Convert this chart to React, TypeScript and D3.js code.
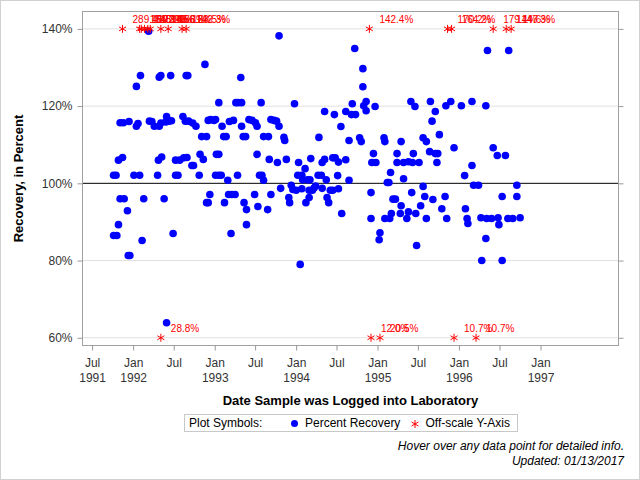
import { useEffect, useRef } from 'react';
import { select, scaleLinear, scaleTime, axisBottom, axisLeft, axisRight, timeMonth, timeFormat } from 'd3';

// sample log dates as decimal years, and recovery in percent
const loggedYear = [
  1992.88, 1992.09, 1992.04, 1992.32, 1992.34, 1992.46, 1992.65, 1992.67, 1993.32, 1993.05,
  1993.26, 1993.29, 1993.33, 1993.57, 1993.98, 1994.35, 1991.84, 1991.88, 1991.95, 1992.04,
  1992.06, 1992.20, 1992.23, 1992.26, 1992.32, 1992.34, 1992.41, 1992.40, 1992.44, 1992.47,
  1992.61, 1992.64, 1992.68, 1992.73, 1992.77, 1992.92, 1992.95, 1992.99, 1993.01, 1993.09,
  1993.18, 1993.23, 1993.33, 1993.42, 1993.46, 1993.52, 1993.50, 1993.69, 1993.73, 1993.76,
  1993.79, 1994.28, 1992.84, 1992.90, 1993.11, 1993.14, 1993.35, 1993.38, 1993.60, 1993.66,
  1993.85, 1993.86, 1991.82, 1991.87, 1992.31, 1992.35, 1992.52, 1992.57, 1992.62, 1992.66,
  1992.72, 1992.74, 1992.82, 1992.86, 1993.02, 1993.05, 1993.52, 1993.67, 1993.77, 1993.88,
  1994.03, 1994.11, 1994.18, 1994.32, 1994.35, 1991.76, 1991.79, 1992.01, 1992.08, 1992.30,
  1992.52, 1992.55, 1992.81, 1993.01, 1993.05, 1993.08, 1993.16, 1993.28, 1993.55, 1993.58,
  1993.60, 1993.81, 1993.94, 1993.96, 1994.00, 1994.02, 1994.07, 1994.07, 1994.08, 1994.14,
  1994.16, 1994.17, 1994.20, 1994.22, 1994.24, 1994.27, 1994.31, 1994.32, 1994.37, 1991.84,
  1991.89, 1992.13, 1992.38, 1991.93, 1991.82, 1991.76, 1991.80, 1992.11, 1991.94, 1991.96,
  1992.49, 1992.41, 1992.94, 1992.90, 1992.92, 1993.12, 1993.17, 1993.21, 1993.25, 1993.36,
  1993.39, 1993.39, 1993.20, 1993.49, 1993.53, 1993.65, 1993.69, 1993.92, 1993.91, 1994.12,
  1994.16, 1994.38, 1994.40, 1994.05, 1992.19, 1993.79, 1994.42, 1994.45, 1994.52, 1994.56,
  1994.72, 1994.82, 1994.82, 1994.86, 1994.83, 1994.86, 1994.97, 1994.69, 1994.61, 1994.68,
  1994.73, 1994.47, 1994.55, 1994.65, 1994.78, 1994.80, 1995.08, 1995.09, 1995.29, 1995.41,
  1995.46, 1995.65, 1995.71, 1995.67, 1995.76, 1995.56, 1995.60, 1995.84, 1995.90, 1996.03,
  1996.16, 1996.33, 1996.35, 1996.61, 1995.94, 1996.42, 1996.47, 1996.57, 1996.16, 1996.07,
  1995.64, 1995.71, 1995.74, 1995.73, 1995.44, 1995.24, 1995.24, 1995.32, 1995.38, 1995.43,
  1995.51, 1994.95, 1994.93, 1994.98, 1995.16, 1995.32, 1995.12, 1995.14, 1994.65, 1994.51,
  1994.61, 1994.45, 1994.48, 1994.52, 1996.18, 1996.24, 1996.71, 1995.56, 1994.92, 1994.92,
  1995.03, 1995.02, 1995.19, 1995.22, 1995.17, 1995.09, 1995.15, 1995.29, 1995.28, 1995.38,
  1995.36, 1995.42, 1995.47, 1995.48, 1995.53, 1995.58, 1995.60, 1995.68, 1995.79, 1995.83,
  1995.85, 1996.08, 1996.10, 1996.11, 1996.27, 1996.34, 1996.40, 1996.48, 1996.49, 1996.33,
  1996.28, 1996.53, 1996.53, 1996.60, 1996.66, 1996.75, 1996.71,
];
const recovery = [
  130.8, 127.9, 125.1, 127.5, 127.9, 127.9, 127.9, 127.9, 127.4, 120.9,
  120.9, 120.9, 120.9, 120.9, 120.6, 118.6, 115.7, 115.7, 116.0, 114.8,
  115.5, 116.1, 116.0, 114.8, 114.8, 115.6, 117.3, 115.9, 116.1, 116.2,
  117.3, 116.1, 116.1, 115.6, 114.8, 116.3, 116.5, 116.3, 116.5, 114.8,
  116.0, 116.3, 114.8, 116.5, 116.3, 114.8, 115.7, 116.5, 116.3, 116.1,
  114.8, 111.9, 112.1, 112.1, 112.1, 112.1, 112.1, 112.1, 112.1, 112.1,
  111.9, 111.1, 106.0, 106.7, 106.0, 106.8, 106.0, 106.0, 106.6, 106.7,
  104.6, 104.6, 107.5, 106.2, 107.5, 107.5, 107.5, 106.2, 105.4, 106.2,
  105.4, 103.8, 106.4, 105.4, 106.2, 102.1, 102.1, 102.1, 102.1, 102.1,
  102.1, 102.1, 102.1, 102.1, 102.1, 102.1, 100.8, 102.1, 102.1, 102.1,
  100.8, 98.7, 99.5, 98.4, 98.2, 102.1, 102.1, 98.6, 100.9, 100.9,
  98.2, 100.9, 98.2, 98.8, 99.3, 102.1, 102.1, 98.7, 100.9, 96.0,
  96.0, 96.0, 96.0, 92.9, 89.3, 86.5, 86.5, 85.2, 81.3, 81.3,
  87.0, 63.9, 97.1, 95.0, 95.0, 95.0, 97.1, 97.1, 97.1, 95.0,
  93.2, 89.3, 87.0, 97.1, 94.0, 93.2, 97.1, 95.0, 96.3, 95.0,
  96.3, 96.3, 95.0, 79.0, 139.4, 138.2, 98.2, 98.2, 98.6, 92.2,
  134.9, 129.7, 125.0, 121.2, 120.1, 118.8, 119.9, 120.6, 118.6, 117.8,
  117.8, 117.8, 114.7, 111.1, 111.8, 110.8, 111.8, 110.8, 110.8, 121.2,
  119.9, 121.2, 118.6, 116.1, 112.6, 111.8, 110.8, 120.1, 121.2, 120.1,
  121.2, 120.1, 134.4, 134.4, 109.2, 109.2, 107.2, 107.2, 104.6, 102.0,
  108.2, 107.7, 107.7, 105.4, 107.7, 107.7, 105.4, 105.4, 105.6, 105.4,
  105.4, 107.7, 105.4, 105.4, 102.8, 101.2, 100.2, 100.2, 100.8, 102.0,
  106.1, 106.6, 106.6, 105.5, 99.5, 99.5, 99.5, 99.2, 97.6, 90.9,
  87.2, 85.4, 95.9, 95.9, 92.2, 90.9, 90.9, 94.2, 92.2, 92.6,
  90.9, 97.6, 92.2, 83.9, 94.2, 96.6, 90.9, 95.8, 93.4, 96.6,
  90.9, 93.4, 90.9, 89.6, 91.1, 90.9, 90.9, 91.1, 89.3, 85.7,
  80.0, 80.0, 96.6, 90.9, 90.9, 91.1, 96.6,
];

// samples whose recovery falls outside the 60%-140% scale
const offscaleYear = [
  1991.87, 1992.08, 1992.10, 1992.14, 1992.18, 1992.21, 1992.34, 1992.43, 1992.60, 1992.65,
  1994.90, 1995.86, 1995.91, 1996.42, 1996.58, 1996.64,
  1992.34, 1994.92, 1995.03, 1995.94, 1996.21,
];
const offscaleValue = [
  289.4, 154.3, 160.9, 148.2, 172.6, 151.0, 145.8, 156.2, 163.5, 142.3,
  142.4, 170.2, 164.2, 179.1, 144.6, 147.3,
  28.8, 12.0, 20.5, 10.7, 10.7,
];

const yTicks = [60, 80, 100, 120, 140];
const yMin = 58;
const yMax = 144.5;
const scaleLow = 60;
const scaleHigh = 140;
const xStartYear = 1991.378;
const xEndYear = 1997.958;
const xFirstTick = [1991, 6];
const xLastTick = [1997, 0];

const FONT = 'Liberation Sans, Arial, Helvetica, sans-serif';
const W = 640;
const H = 480;
const left = 82.5;
const right = 618.5;
const top = 11.5;
const bottom = 345.5;

function yearToDate(y: number) {
  const yr = Math.floor(y);
  const a = new Date(yr, 0, 1).getTime();
  const b = new Date(yr + 1, 0, 1).getTime();
  return new Date(a + (y - yr) * (b - a));
}

const asterisk = 'M0,-4L0,4M-3.5,-2L3.5,2M-3.5,2L3.5,-2';

const App = () => {
  const xAxisRef = useRef<SVGGElement>(null);
  const yAxisRef = useRef<SVGGElement>(null);
  const yAxisRightRef = useRef<SVGGElement>(null);

  const x = scaleTime().domain([yearToDate(xStartYear), yearToDate(xEndYear)]).range([left, right]);
  const y = scaleLinear().domain([yMin, yMax]).range([bottom, top]);

  useEffect(() => {
    const tickDates = timeMonth
      .every(6)!
      .range(new Date(xFirstTick[0], xFirstTick[1], 1), new Date(xLastTick[0], xLastTick[1], 2));
    const gx = select(xAxisRef.current!);
    gx.call(axisBottom(x).tickValues(tickDates).tickSize(5).tickFormat(() => ''));
    gx.select('.domain').remove();
    gx.selectAll('.tick line').attr('stroke', '#999');
    gx.selectAll<SVGTextElement, Date>('.tick text').each(function (d, i) {
      const t = select(this);
      t.attr('y', 21).attr('dy', null).attr('fill', '#333').style('font-size', '12px');
      t.append('tspan').attr('x', 0).text(timeFormat('%b')(d));
      if (i === 0 || d.getMonth() === 0) {
        t.append('tspan').attr('x', 0).attr('dy', 15).text(timeFormat('%Y')(d));
      }
    });

    const gy = select(yAxisRef.current!);
    gy.call(axisLeft(y).tickValues(yTicks).tickSize(5).tickPadding(5).tickFormat((d) => `${d}%`));
    gy.select('.domain').remove();
    gy.selectAll('.tick line').attr('stroke', '#999');
    gy.selectAll('.tick text').attr('fill', '#333').style('font-size', '12px');

    const gr = select(yAxisRightRef.current!);
    gr.call(axisRight(y).tickValues(yTicks).tickSize(5).tickFormat(() => ''));
    gr.select('.domain').remove();
    gr.selectAll('.tick line').attr('stroke', '#999');
  }, []);

  return (
    <svg
      width={W}
      height={H}
      style={{ position: 'absolute', left: 0, top: 0, background: '#fff', fontFamily: FONT }}
    >
      <rect x={0.5} y={0.5} width={W - 1} height={H - 1} fill="#fff" stroke="#d0d0d0" />

      {yTicks.filter((t) => t !== 100).map((t) => (
        <line key={t} x1={left} x2={right} y1={y(t)} y2={y(t)} stroke="#e0e0e0" />
      ))}
      <line x1={left} x2={right} y1={y(100)} y2={y(100)} stroke="#000" />

      {loggedYear.map((yr, i) => (
        <circle key={i} cx={x(yearToDate(yr))} cy={y(recovery[i])} r={3.8} fill="#0000ff" />
      ))}

      {offscaleYear.map((yr, i) => {
        const v = offscaleValue[i];
        const yy = y(v > scaleHigh ? scaleHigh : scaleLow);
        return (
          <path
            key={`a${i}`}
            d={asterisk}
            transform={`translate(${x(yearToDate(yr))},${yy})`}
            stroke="#ff0000"
            fill="none"
          />
        );
      })}
      {offscaleYear.map((yr, i) => {
        const v = offscaleValue[i];
        const yy = y(v > scaleHigh ? scaleHigh : scaleLow);
        return (
          <text key={`l${i}`} x={x(yearToDate(yr)) + 10} y={yy - 6} fontSize={10} fill="#ff0000">
            {`${v.toFixed(1)}%`}
          </text>
        );
      })}

      <rect x={left} y={top} width={right - left} height={bottom - top} fill="none" stroke="#a0a0a0" />

      <g ref={xAxisRef} transform={`translate(0,${bottom})`} />
      <g ref={yAxisRef} transform={`translate(${left},0)`} />
      <g ref={yAxisRightRef} transform={`translate(${right},0)`} />

      <text x={(left + right) / 2} y={405} textAnchor="middle" fontSize={13} fontWeight="bold">
        Date Sample was Logged into Laboratory
      </text>
      <text
        transform={`translate(23,${(top + bottom) / 2}) rotate(-90)`}
        textAnchor="middle"
        fontSize={13}
        fontWeight="bold"
      >
        Recovery, in Percent
      </text>

      <g fontSize={12}>
        <rect x={184.5} y={414.5} width={333} height={17} fill="none" stroke="#c8c8c8" />
        <text x={189} y={427}>Plot Symbols:</text>
        <circle cx={294.5} cy={423.5} r={3.5} fill="#0000ff" />
        <text x={305} y={427}>Percent Recovery</text>
        <path d={asterisk} transform="translate(415,424)" stroke="#ff0000" fill="none" />
        <text x={425.5} y={427}>Off-scale Y-Axis</text>
      </g>

      <g fontSize={12} fontStyle="italic" textAnchor="end">
        <text x={624} y={450}>Hover over any data point for detailed info.</text>
        <text x={624} y={465}>Updated: 01/13/2017</text>
      </g>
    </svg>
  );
};

export default App;
